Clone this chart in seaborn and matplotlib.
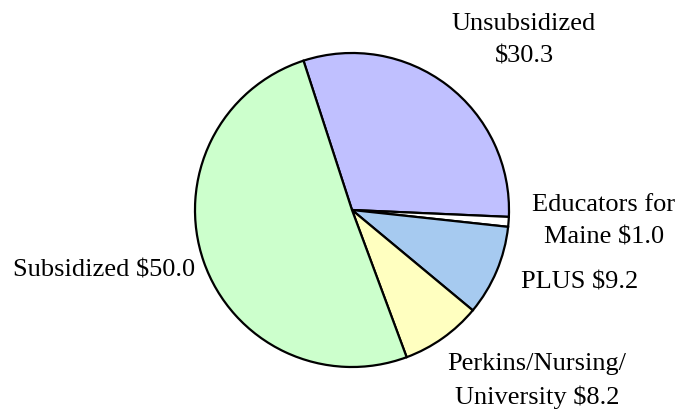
import matplotlib.pyplot as plt
import seaborn as sns

categories = ['Unsubsidized', 'Educators for Maine', 'PLUS', 'Perkins/Nursing/University', 'Subsidized']
values = [30.3, 1.0, 9.2, 8.2, 50.0]
labels = ['Unsubsidized\n$30.3', 'Educators for\nMaine $1.0', 'PLUS $9.2',
          'Perkins/Nursing/\nUniversity $8.2', 'Subsidized $50.0']
colors = ['#C0C0FF', '#FFFFFF', '#A6CAF0', '#FFFFC0', '#CCFFCC']

sns.set_theme(style='white')
plt.rcParams['font.family'] = ['Liberation Serif', 'DejaVu Serif']

fig = plt.figure(figsize=(6.8, 4.12), dpi=100)
ax = fig.add_axes([0, 0, 1, 1])

ax.pie(values, colors=colors, startangle=108, counterclock=False,
       radius=1.0, center=(0, 0),
       wedgeprops={'edgecolor': 'black', 'linewidth': 1.6})

# label positions in pixel space of the original, converted to data units
cx, cy, r = 352, 210, 157
label_px = [(524, 40), (604, 221), (580, 283), (537, 381), (104, 270)]
for lab, (px, py) in zip(labels, label_px):
    ax.text((px - cx) / r, (cy - py) / r, lab, ha='center', va='center',
            fontsize=19, color='black', linespacing=1.6)

ax.set_xlim((0 - cx) / r, (680 - cx) / r)
ax.set_ylim((cy - 412) / r, cy / r)
ax.set_aspect('equal')
ax.axis('off')

fig.savefig('out.png', dpi=100)
